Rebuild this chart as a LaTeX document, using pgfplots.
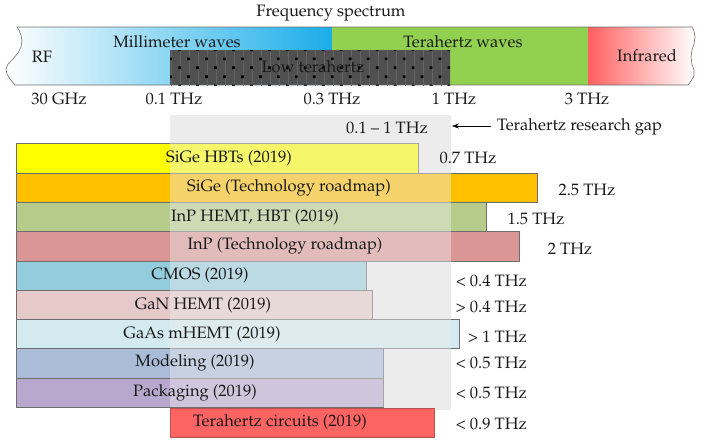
\documentclass[border=0pt]{standalone}
\usepackage[T1]{fontenc}
\usepackage{mathpazo}
\usepackage{pgfplots}
\pgfplotsset{compat=1.18}
\usetikzlibrary{patterns.meta,arrows.meta}
\definecolor{txt}{RGB}{25,25,25}
\definecolor{edge}{RGB}{110,110,110}
\definecolor{mmlight}{RGB}{168,220,243}
\definecolor{mmblue}{RGB}{26,173,232}
\definecolor{thzgreen}{RGB}{146,208,80}
\definecolor{irred}{RGB}{255,96,96}
\definecolor{darkbox}{RGB}{80,80,80}
\definecolor{gridc}{RGB}{100,100,100}
\definecolor{gap}{RGB}{236,236,236}
\definecolor{cA}{RGB}{255,255,0}
\definecolor{cB}{RGB}{255,192,0}
\definecolor{cC}{RGB}{183,204,138}
\definecolor{cD}{RGB}{217,150,148}
\definecolor{cE}{RGB}{147,205,221}
\definecolor{cF}{RGB}{230,202,202}
\definecolor{cG}{RGB}{210,234,240}
\definecolor{cH}{RGB}{170,188,216}
\definecolor{cI}{RGB}{184,168,206}
\definecolor{cJ}{RGB}{255,100,100}
\definecolor{cJedge}{RGB}{190,80,80}
\begin{document}
\begin{tikzpicture}[font=\fontsize{16.5}{19}\selectfont, every node/.append style={text=txt, inner sep=0pt}]
\begin{axis}[x=1pt, y=1pt, y dir=reverse, xmin=0, xmax=711, ymin=0, ymax=445,
  hide axis, clip=false]
% bounding box
\addplot[draw=none] coordinates {(0,0) (711,445)};
% millimetre waves (blue gradient with wavy left edge)
\addplot[draw=none, left color=white, middle color=mmlight, right color=mmblue]
  coordinates {(17,27) (332,27) (332,85) (15,85) (10,79) (7,74) (6,69) (8,64) (13,59) (18,53) (21,47) (22,41) (21,35) (19,30)} -- cycle;
% terahertz waves
\addplot[draw=none, fill=thzgreen]
  coordinates {(332,27) (588,27) (588,85) (332,85)} -- cycle;
% infrared
\addplot[draw=none, left color=irred, right color=white]
  coordinates {(588,27) (692,27) (694,31) (695,37) (694,44) (692,50) (691,57) (692,64) (694,70) (694,76) (691,81) (688,85) (588,85)} -- cycle;
% low terahertz box
\addplot[draw=none, fill=darkbox]
  coordinates {(170,50) (450,50) (450,85) (170,85)} -- cycle;
\addplot[draw=none, pattern={Lines[distance=9pt, angle=90, line width=0.4pt]}, pattern color=gridc]
  coordinates {(170,50) (450,50) (450,85) (170,85)} -- cycle;
\addplot[draw=none, pattern={Dots[distance=12.7pt, radius=1.9pt, angle=45]}, pattern color=black]
  coordinates {(170,50) (450,50) (450,85) (170,85)} -- cycle;
% outline of the spectrum band
\addplot[draw=edge, line width=0.6pt]
  coordinates {(17,27) (692,27) (694,31) (695,37) (694,44) (692,50) (691,57) (692,64) (694,70) (694,76) (691,81) (688,85) (15,85) (10,79) (7,74) (6,69) (8,64) (13,59) (18,53) (21,47) (22,41) (21,35) (19,30)} -- cycle;
% research gap
\addplot[draw=none, fill=gap]
  coordinates {(170,115) (451,115) (451,410) (170,410)} -- cycle;
% bars
\addplot[draw=edge, line width=0.6pt, fill=cA] coordinates {(16,143) (418,143) (418,173) (16,173)} -- cycle;
\addplot[draw=edge, line width=0.6pt, fill=cB] coordinates {(16,173) (537,173) (537,202) (16,202)} -- cycle;
\addplot[draw=edge, line width=0.6pt, fill=cC] coordinates {(16,202) (486,202) (486,231) (16,231)} -- cycle;
\addplot[draw=edge, line width=0.6pt, fill=cD] coordinates {(16,231) (519,231) (519,261) (16,261)} -- cycle;
\addplot[draw=edge, line width=0.6pt, fill=cE] coordinates {(16,261) (366,261) (366,290) (16,290)} -- cycle;
\addplot[draw=edge, line width=0.6pt, fill=cF] coordinates {(16,290) (372,290) (372,319) (16,319)} -- cycle;
\addplot[draw=edge, line width=0.6pt, fill=cG] coordinates {(16,319) (459,319) (459,348) (16,348)} -- cycle;
\addplot[draw=edge, line width=0.6pt, fill=cH] coordinates {(16,348) (383,348) (383,378) (16,378)} -- cycle;
\addplot[draw=edge, line width=0.6pt, fill=cI] coordinates {(16,378) (383,378) (383,407) (16,407)} -- cycle;
\addplot[draw=cJedge, line width=0.6pt, fill=cJ] coordinates {(170,408) (434,408) (434,437) (170,437)} -- cycle;
% translucent gap over the bars
\addplot[draw=none, fill=gap, fill opacity=0.45]
  coordinates {(170,143) (451,143) (451,407) (170,407)} -- cycle;
% arrow
\addplot[black, line width=0.5pt, -{Stealth[length=7pt,width=5pt]}] coordinates {(491,126) (452,126)};
% texts
\node at (axis cs:331,13) {Frequency spectrum};
\node at (axis cs:42,57) {RF};
\node at (axis cs:177,42) {Millimeter waves};
\node at (axis cs:463,42) {Terahertz waves};
\node at (axis cs:647,56) {Infrared};
\node at (axis cs:313,67) {Low terahertz};
\node at (axis cs:59,99) {30 GHz};
\node at (axis cs:174,99) {0.1 THz};
\node at (axis cs:332,99) {0.3 THz};
\node at (axis cs:454,99) {1 THz};
\node at (axis cs:587,99) {3 THz};
\node at (axis cs:387,128) {0.1 -- 1 THz};
\node[anchor=west] at (axis cs:497,127) {Terahertz research gap};
\node at (axis cs:229,158) {SiGe HBTs (2019)};
\node at (axis cs:289,188) {SiGe (Technology roadmap)};
\node at (axis cs:255,217) {InP HEMT, HBT (2019)};
\node at (axis cs:285,246) {InP (Technology roadmap)};
\node at (axis cs:200,275) {CMOS (2019)};
\node at (axis cs:203,305) {GaN HEMT (2019)};
\node at (axis cs:202,334) {GaAs mHEMT (2019)};
\node at (axis cs:195,363) {Modeling (2019)};
\node at (axis cs:195,393) {Packaging (2019)};
\node at (axis cs:280,422) {Terahertz circuits (2019)};
\node at (axis cs:468,158) {0.7 THz};
\node at (axis cs:587,190) {2.5 THz};
\node at (axis cs:536,219) {1.5 THz};
\node at (axis cs:570,249) {2 THz};
\node[anchor=east] at (axis cs:527,281) {\textless\ 0.4 THz};
\node[anchor=east] at (axis cs:527,307) {\textgreater\ 0.4 THz};
\node[anchor=east] at (axis cs:527,337) {\textgreater\ 1 THz};
\node[anchor=east] at (axis cs:527,363) {\textless\ 0.5 THz};
\node[anchor=east] at (axis cs:527,393) {\textless\ 0.5 THz};
\node[anchor=east] at (axis cs:527,424) {\textless\ 0.9 THz};
\end{axis}
\end{tikzpicture}
\end{document}
